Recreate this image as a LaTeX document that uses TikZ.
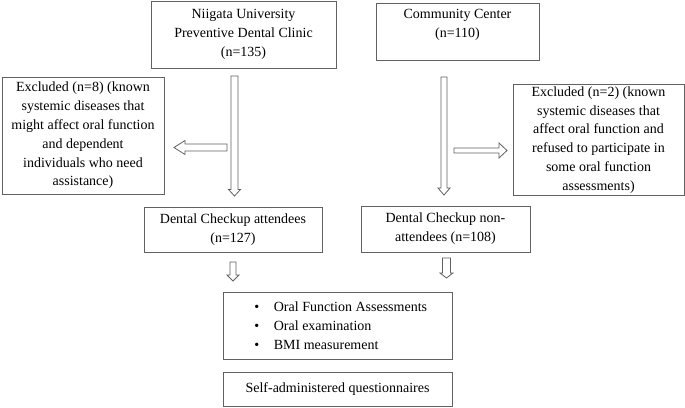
\documentclass[tikz,border=0pt]{standalone}
\usepackage{fontspec}
\setmainfont{Liberation Serif}
\usetikzlibrary{calc}
\tikzset{
  box/.style={draw=black!62, line width=0.8pt, rectangle, inner sep=2pt, align=center,
    font=\fontsize{14}{18.8}\selectfont, text=black},
  blk/.style={draw=black!62, line width=0.8pt, fill=white, line join=miter},
}
% #1 start, #2 tip, #3 shaft half width, #4 head half width, #5 head length
\newcommand\blkdown[5]{\draw[blk] let \p1=(#1),\p2=(#2) in
  (\x1-#3,\y1) -- (\x1-#3,\y2+#5) -- (\x1-#4,\y2+#5) -- (\x1,\y2) -- (\x1+#4,\y2+#5) -- (\x1+#3,\y2+#5) -- (\x1+#3,\y1) -- cycle;}
\newcommand\blkleft[5]{\draw[blk] let \p1=(#1),\p2=(#2) in
  (\x1,\y1-#3) -- (\x2+#5,\y1-#3) -- (\x2+#5,\y1-#4) -- (\x2,\y1) -- (\x2+#5,\y1+#4) -- (\x2+#5,\y1+#3) -- (\x1,\y1+#3) -- cycle;}
\newcommand\blkright[5]{\draw[blk] let \p1=(#1),\p2=(#2) in
  (\x1,\y1-#3) -- (\x2-#5,\y1-#3) -- (\x2-#5,\y1-#4) -- (\x2,\y1) -- (\x2-#5,\y1+#4) -- (\x2-#5,\y1+#3) -- (\x1,\y1+#3) -- cycle;}
\begin{document}
\begin{tikzpicture}[x=1pt,y=-1pt]
\useasboundingbox (0,0) rectangle (685,407);
% boxes
\node[box, minimum width=185pt, minimum height=67pt] (n1) at (243.5,34.5)
  {Niigata University\\Preventive Dental Clinic\\(n=135)};
\node[box, minimum width=163pt, minimum height=57pt, text depth=16.5pt] (n2) at (457.5,31.5)
  {Community Center\\(n=110)};
\node[box, minimum width=162pt, minimum height=117pt] (ex1) at (83,135.5)
  {Excluded (n=8) (known\\systemic diseases that\\might affect oral function\\and dependent\\individuals who need\\assistance)};
\node[box, minimum width=171pt, minimum height=108pt] (ex2) at (598.5,140)
  {Excluded (n=2) (known\\systemic diseases that\\affect oral function and\\refused to participate in\\some oral function\\assessments)};
\node[box, minimum width=178pt, minimum height=45pt] (att) at (233,229.5)
  {Dental Checkup attendees\\(n=127)};
\node[box, minimum width=169pt, minimum height=46pt] (non) at (445.5,229)
  {Dental Checkup non-\\attendees (n=108)};
\node[box, minimum width=229pt, minimum height=67pt, align=left] (bul) at (337.5,325.5)
  {\hspace*{6.5pt}\makebox[19.5pt][l]{\textbullet}Oral Function Assessments\\
   \hspace*{6.5pt}\makebox[19.5pt][l]{\textbullet}Oral examination\\
   \hspace*{6.5pt}\makebox[19.5pt][l]{\textbullet}BMI measurement};
\node[box, minimum width=229pt, minimum height=34pt] (self) at (337.5,389)
  {Self-administered questionnaires};
% arrow end points
\coordinate (a1s) at (234.5,76);
\coordinate (a1e) at (234.5,196);
\coordinate (a2s) at (227,147.5);
\coordinate (a2e) at (174,147.5);
\coordinate (a3s) at (444,77);
\coordinate (a3e) at (444,195);
\coordinate (a4s) at (454,150.5);
\coordinate (a4e) at (507,150.5);
\coordinate (a5s) at (233,262);
\coordinate (a5e) at (233,281);
\coordinate (a6s) at (446.5,258);
\coordinate (a6e) at (446.5,278);
% block arrows
\blkdown{a1s}{a1e}{3.5pt}{6pt}{6.5pt}
\blkleft{a2s}{a2e}{3.5pt}{7pt}{11pt}
\blkdown{a3s}{a3e}{3pt}{6pt}{7pt}
\blkright{a4s}{a4e}{2.5pt}{7.5pt}{8pt}
\blkdown{a5s}{a5e}{3pt}{6pt}{6pt}
\blkdown{a6s}{a6e}{4pt}{6.5pt}{5pt}
\end{tikzpicture}
\end{document}
